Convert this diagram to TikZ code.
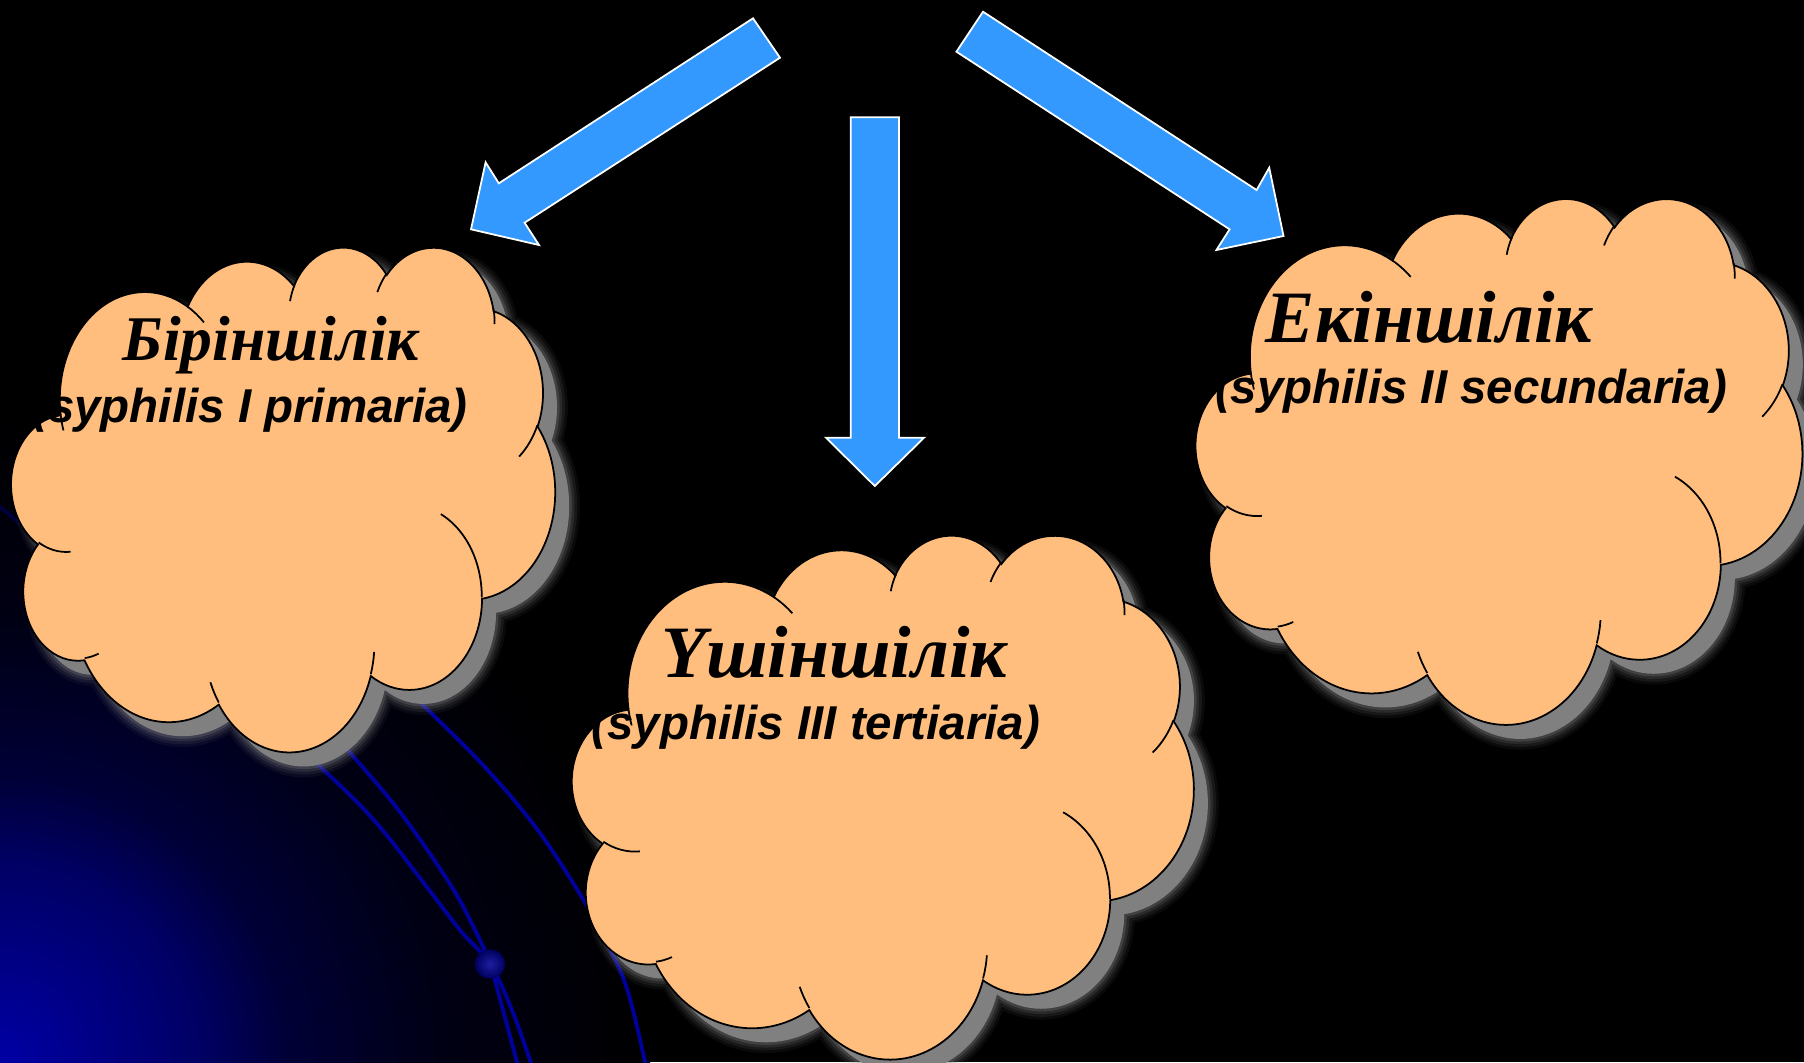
\documentclass[tikz,border=0pt]{standalone}
\usepackage{fontspec}
\setmainfont{Liberation Serif}
\newfontfamily\subfont{Liberation Sans}
\definecolor{peach}{RGB}{255,190,125}
\definecolor{arrowblue}{RGB}{51,153,255}
\definecolor{shadowgray}{RGB}{128,128,128}
\definecolor{lineblue}{RGB}{0,0,155}
\definecolor{glowA}{RGB}{0,0,165}
\definecolor{glowB}{RGB}{0,0,100}
\definecolor{glowC}{RGB}{0,0,55}
\definecolor{glowD}{RGB}{0,0,20}
\definecolor{sphereIn}{RGB}{30,30,160}
\definecolor{sphereOut}{RGB}{0,0,95}
\pgfdeclareradialshading{cornerglow}{\pgfpoint{0bp}{0bp}}{color(0bp)=(glowA); color(7.7bp)=(glowB); color(11bp)=(glowC); color(17bp)=(glowD); color(25bp)=(black); color(50bp)=(black)}

% arc given as in DrawingML: radii, visual start angle, visual sweep
\newcommand\cloudarc[4]{%
  \pgfmathsetmacro\cts{atan2((#1)*sin(#3),(#2)*cos(#3))}%
  \pgfmathsetmacro\cte{atan2((#1)*sin((#3)+(#4)),(#2)*cos((#3)+(#4)))}%
  \pgfmathsetmacro\cdd{\cte-\cts}%
  \pgfmathsetmacro\cdd{\cdd-360*round((\cdd-(#4))/360)}%
  \pgfmathsetmacro\cend{\cts+\cdd}%
  \pgfpatharcaxes{\cts}{\cend}{\pgfpointxy{#1}{0}}{\pgfpointxy{0}{#2}}%
}
\newcommand\cloudmainpath{%
  \pgfpathmoveto{\pgfpointxy{39.00}{143.70}}%
  \cloudarc{67.53}{91.90}{-190.4875}{123.7805}%
  \cloudarc{53.33}{72.67}{-144.1024}{89.9452}%
  \cloudarc{43.65}{59.45}{-145.8079}{99.7230}%
  \cloudarc{48.57}{65.95}{-130.9861}{117.2417}%
  \cloudarc{53.33}{72.73}{-78.7089}{109.0269}%
  \cloudarc{67.75}{92.20}{-46.2673}{130.2690}%
  \cloudarc{57.85}{78.67}{0.6250}{114.0333}%
  \cloudarc{67.52}{92.15}{22.4516}{115.1726}%
  \cloudarc{77.20}{105.43}{66.2426}{75.7110}%
  \cloudarc{43.60}{59.18}{-274.9421}{146.7356}%
  \cloudarc{43.45}{59.45}{-246.8285}{152.5189}%
  \pgfpathclose
}
\newcommand\cloudinnerpath{%
  \pgfpathmoveto{\pgfpointxy{46.93}{261.77}}\cloudarc{43.45}{59.45}{86.7420}{26.4295}%
  \pgfpathmoveto{\pgfpointxy{69.28}{348.99}}\cloudarc{43.60}{59.18}{73.6105}{11.4475}%
  \pgfpathmoveto{\pgfpointxy{164.78}{390.90}}\cloudarc{67.52}{92.15}{137.6242}{14.0811}%
  \pgfpathmoveto{\pgfpointxy{288.27}{347.51}}\cloudarc{67.52}{92.15}{6.4533}{15.9984}%
  \pgfpathmoveto{\pgfpointxy{341.29}{229.54}}\cloudarc{57.85}{78.67}{-70.2924}{70.9174}%
  \pgfpathmoveto{\pgfpointxy{417.98}{153.54}}\cloudarc{53.33}{72.73}{30.3180}{27.7515}%
  \pgfpathmoveto{\pgfpointxy{383.24}{54.26}}\cloudarc{48.57}{65.95}{-13.7443}{14.8589}%
  \pgfpathmoveto{\pgfpointxy{290.78}{39.52}}\cloudarc{48.57}{65.95}{-149.1815}{18.1954}%
  \pgfpathmoveto{\pgfpointxy{221.41}{47.20}}\cloudarc{43.65}{59.45}{-163.4943}{17.6864}%
  \pgfpathmoveto{\pgfpointxy{140.00}{51.92}}\cloudarc{67.53}{91.90}{-66.7070}{12.3194}%
  \pgfpathmoveto{\pgfpointxy{41.27}{157.89}}\cloudarc{67.53}{91.90}{157.6544}{11.8582}%
}
% x0 y0 xscale yscale shadowx shadowy
\newcommand\drawcloud[6]{%
\begin{scope}[shift={(#5,#6)}, x=#3cm, y=-#4cm]
  \pgfsetroundjoin
  \pgfsetstrokecolor{shadowgray}%
  \cloudmainpath\pgfsetlinewidth{6.2pt}\pgfsetstrokeopacity{0.08}\pgfusepath{stroke}%
  \cloudmainpath\pgfsetlinewidth{4.6pt}\pgfsetstrokeopacity{0.12}\pgfusepath{stroke}%
  \cloudmainpath\pgfsetlinewidth{3.0pt}\pgfsetstrokeopacity{0.18}\pgfusepath{stroke}%
  \cloudmainpath\pgfsetlinewidth{1.5pt}\pgfsetstrokeopacity{0.28}\pgfusepath{stroke}%
  \cloudmainpath\pgfsetfillcolor{shadowgray}\pgfusepath{fill}%
\end{scope}
\begin{scope}[shift={(#1,#2)}, x=#3cm, y=-#4cm]
  \pgfsetlinewidth{0.5pt}%
  \pgfsetstrokecolor{black}\pgfsetfillcolor{peach}%
  \cloudmainpath\pgfusepath{fill,stroke}%
  \cloudinnerpath\pgfusepath{stroke}%
\end{scope}}

\tikzset{
  bigarrow/.style={fill=arrowblue, draw=white, line width=0.5pt, line join=miter},
  bgline/.style={draw=lineblue, line width=1.1pt, line cap=round},
  titletext/.style={anchor=base, inner sep=0pt, text=black, font=\bfseries\itshape\fontsize{#1}{#1}\selectfont},
  subtext/.style={anchor=base, inner sep=0pt, text=black, font=\subfont\bfseries\itshape\fontsize{13.5}{15}\selectfont},
}

\begin{document}
\begin{tikzpicture}[x=0.01cm,y=-0.01cm]
\useasboundingbox (0,0) rectangle (1804,1062);
\fill[black] (0,0) rectangle (1804,1062);
\begin{scope}
  \clip (0,0) rectangle (1804,1062);
  \shade[shading=cornerglow] (-650,412) rectangle (650,1712);
\end{scope}

% background curves
\draw[bgline, draw opacity=0.35] (-2,505) -- (30,532);
\draw[bgline] plot[smooth, tension=0.6] coordinates {(28,530) (130,610) (250,705) (315,762) (373,819) (423,882) (460,930) (490,964) (512,1010) (532,1066)};
\draw[bgline] plot[smooth, tension=0.6] coordinates {(300,695) (347,749) (400,812) (450,884) (475,930) (490,964) (503,1010) (518,1066)};
\draw[bgline] plot[smooth, tension=0.6] coordinates {(380,660) (417,699) (483,765) (537,829) (583,899) (605,940) (622,975) (633,1010) (646,1066)};
\shade[inner color=sphereIn, outer color=sphereOut] (490,964) ellipse[x radius=15, y radius=14.5];

% clouds
\drawcloud{11.5}{246.0}{0.012566}{0.01168}{25.5}{260.0}
\drawcloud{572.3}{534.0}{0.01438}{0.01212}{586.3}{548.0}
\drawcloud{1196.0}{197.3}{0.01403}{0.012168}{1210.0}{211.3}

% texts
\node[titletext=18.1] (t1) at (271,360.8) {Біріншілік};
\node[subtext] (s1) at (250,422) {(syphilis I primaria)};
\node[titletext=21] (t2) at (834.2,677.5) {Үшіншілік};
\node[subtext] (s2) at (815.7,739.8) {(syphilis III tertiaria)};
\node[titletext=21] (t3) at (1429,342.3) {Екіншілік};
\node[subtext] (s3) at (1471,403.5) {(syphilis II secundaria)};

% block arrows
\filldraw[bigarrow] (753,18.3) -- (780,57.7) -- (524.6,222.7) -- (539,245) -- (471,229.3) -- (485.6,162.3) -- (498.8,183.3) -- cycle;
\filldraw[bigarrow] (850.7,117.3) -- (898.9,117.3) -- (898.9,437.7) -- (924,437.7) -- (874.8,486) -- (826,437.7) -- (850.7,437.7) -- cycle;
\filldraw[bigarrow] (983,11.7) -- (1256.6,190) -- (1269.2,167.7) -- (1283.5,236) -- (1216.4,250) -- (1229.6,229.3) -- (956.4,51.7) -- cycle;
\end{tikzpicture}
\end{document}
